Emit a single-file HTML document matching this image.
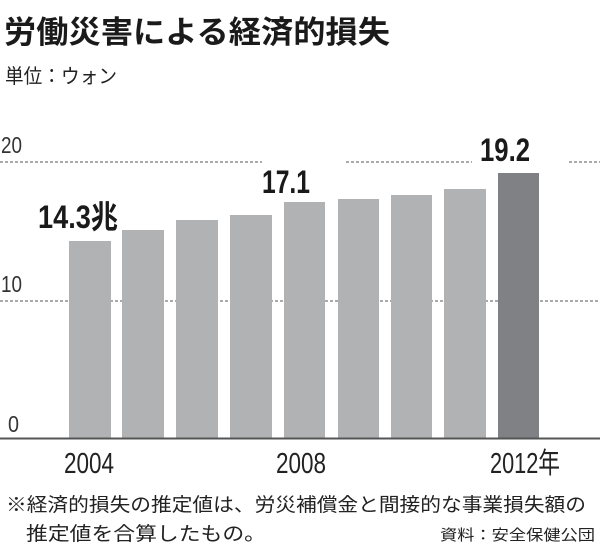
<!DOCTYPE html>
<html><head><meta charset="utf-8"><style>
body{margin:0;background:#fff}
svg{display:block}
text{font-family:"Liberation Sans","Noto Sans CJK JP",sans-serif}
</style></head><body>
<svg width="600" height="559" viewBox="0 0 600 559">
<text x="4" y="43" font-size="31" font-weight="bold" fill="#1a1a1a" textLength="386" lengthAdjust="spacingAndGlyphs">労働災害による経済的損失</text>
<text x="5" y="83" font-size="20" fill="#222" textLength="112" lengthAdjust="spacingAndGlyphs">単位：ウォン</text>
<g stroke="#555" stroke-width="1" stroke-dasharray="3,2">
<line x1="0" y1="162" x2="262" y2="162"/>
<line x1="346" y1="162" x2="472" y2="162"/>
<line x1="569" y1="162" x2="600" y2="162"/>
<line x1="0" y1="301" x2="600" y2="301"/>
</g>
<g font-size="23" fill="#333">
<text x="1" y="153" textLength="21" lengthAdjust="spacingAndGlyphs">20</text>
<text x="1" y="292" textLength="21" lengthAdjust="spacingAndGlyphs">10</text>
<text x="8" y="432" textLength="11" lengthAdjust="spacingAndGlyphs">0</text>
</g>
<g fill="#b1b2b4">
<rect x="69" y="241" width="42" height="197"/>
<rect x="122" y="230" width="42" height="208"/>
<rect x="176" y="220" width="42" height="218"/>
<rect x="230" y="215" width="42" height="223"/>
<rect x="284" y="202" width="41" height="236"/>
<rect x="338" y="199" width="41" height="239"/>
<rect x="391" y="195" width="41" height="243"/>
<rect x="444" y="189" width="42" height="249"/>
</g>
<rect x="498" y="173" width="41" height="265" fill="#808184"/>
<line x1="0" y1="438.5" x2="600" y2="438.5" stroke="#555" stroke-width="2"/>
<g font-size="32" font-weight="bold" fill="#1a1a1a">
<text x="38" y="228" textLength="80" lengthAdjust="spacingAndGlyphs">14.3兆</text>
<text x="262" y="193" textLength="48" lengthAdjust="spacingAndGlyphs">17.1</text>
<text x="480" y="161" textLength="50" lengthAdjust="spacingAndGlyphs">19.2</text>
</g>
<g font-size="29" fill="#222">
<text x="64" y="473" textLength="50" lengthAdjust="spacingAndGlyphs">2004</text>
<text x="276" y="473" textLength="50" lengthAdjust="spacingAndGlyphs">2008</text>
<text x="490" y="473" textLength="70" lengthAdjust="spacingAndGlyphs">2012年</text>
</g>
<text x="6" y="511" font-size="19" fill="#222" textLength="580" lengthAdjust="spacingAndGlyphs">※経済的損失の推定値は、労災補償金と間接的な事業損失額の</text>
<text x="26" y="540" font-size="19" fill="#222" textLength="240" lengthAdjust="spacingAndGlyphs">推定値を合算したもの。</text>
<text x="440" y="540" font-size="15" fill="#222" textLength="155" lengthAdjust="spacingAndGlyphs">資料：安全保健公団</text>
</svg>
</body></html>
